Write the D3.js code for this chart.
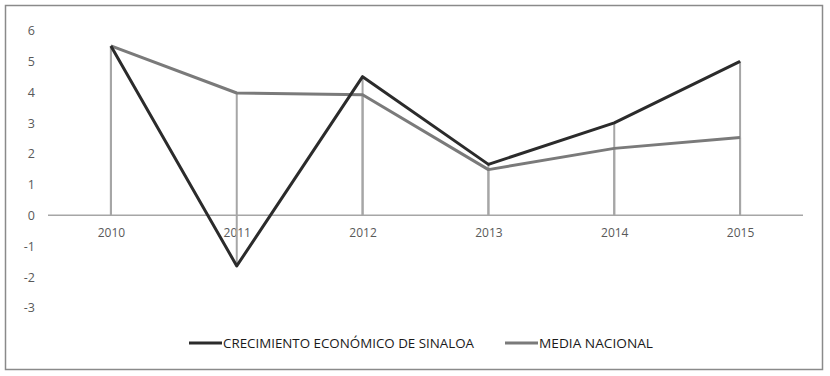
<!DOCTYPE html>
<html>
<head>
<meta charset="utf-8">
<script src="https://cdn.jsdelivr.net/npm/d3@7"></script>
<style>
html,body{margin:0;padding:0;background:#fff;}
svg{display:block;}
text{font-family:"Open Sans","Liberation Sans",sans-serif;}
</style>
</head>
<body>
<svg id="chart" width="830" height="376"></svg>
<script>
const years = ["2010","2011","2012","2013","2014","2015"];
const sinaloa = [5.5, -1.65, 4.5, 1.65, 3.0, 5.0];
const mediaNacional = [5.5, 3.97, 3.91, 1.48, 2.17, 2.52];
const yTicks = [6,5,4,3,2,1,0,-1,-2,-3];
const seriesNames = ["CRECIMIENTO ECONÓMICO DE SINALOA", "MEDIA NACIONAL"];
const seriesColors = ["#2b2b2b", "#7a7a7a"];

const svg = d3.select("#chart");
svg.append("rect").attr("x",5.5).attr("y",5.5).attr("width",817).attr("height",364)
  .attr("fill","#fff").attr("stroke","#8a8a8a").attr("stroke-width",1.5);

const x = d3.scalePoint().domain(years).range([48,803]).padding(0.5);
const y = d3.scaleLinear().domain([-3,6]).range([307.5,30.5]);

// y tick labels
const yAxis = d3.axisLeft(y).tickValues(yTicks).tickSize(0).tickPadding(0).tickFormat(d => String(d));
const gy = svg.append("g").attr("transform","translate(35,0)").call(yAxis);
gy.select(".domain").remove();
gy.selectAll("text").attr("fill","#595959").attr("font-size",12.5).attr("dy","0.35em");

// x axis at zero
const xAxis = d3.axisBottom(x).tickSize(0).tickPadding(13);
const gx = svg.append("g").attr("transform",`translate(0,${y(0)})`).call(xAxis);
gx.select(".domain").attr("stroke","#a6a6a6").attr("stroke-width",1.5).attr("d","M48,0H803");
gx.selectAll("text").attr("fill","#595959").attr("font-size",12);

// drop lines
const drops = [];
years.forEach((yr,i)=>{ drops.push([yr, sinaloa[i]]); drops.push([yr, mediaNacional[i]]); });
svg.append("g").selectAll("line").data(drops).join("line")
  .attr("x1",d=>x(d[0])).attr("x2",d=>x(d[0]))
  .attr("y1",d=>y(d[1])).attr("y2",y(0))
  .attr("stroke","#a6a6a6").attr("stroke-width",2);

const line = d3.line().x((d,i)=>x(years[i])).y(d=>y(d));
svg.append("path").datum(mediaNacional).attr("d",line).attr("fill","none")
  .attr("stroke",seriesColors[1]).attr("stroke-width",3).attr("stroke-linejoin","round");
svg.append("path").datum(sinaloa).attr("d",line).attr("fill","none")
  .attr("stroke",seriesColors[0]).attr("stroke-width",3).attr("stroke-linejoin","round");

// legend
const legendItems = [
  {name: seriesNames[0], color: seriesColors[0], x0: 189, tw: 251},
  {name: seriesNames[1], color: seriesColors[1], x0: 505, tw: 114}
];
const lg = svg.append("g");
legendItems.forEach(it=>{
  lg.append("line").attr("x1",it.x0).attr("x2",it.x0+33).attr("y1",343).attr("y2",343)
    .attr("stroke",it.color).attr("stroke-width",3);
  lg.append("text").attr("x",it.x0+34).attr("y",343).attr("dy","0.36em")
    .attr("font-size",13).attr("fill","#1a1a1a")
    .attr("textLength",it.tw).attr("lengthAdjust","spacingAndGlyphs").text(it.name);
});
</script>
</body>
</html>
